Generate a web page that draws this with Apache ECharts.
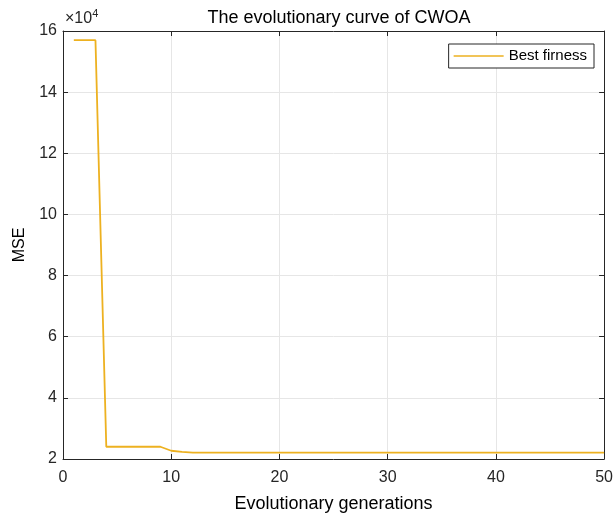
<!DOCTYPE html>
<html>
<head>
<meta charset="utf-8">
<script src="https://cdn.jsdelivr.net/npm/echarts@6/dist/echarts.min.js"></script>
<style>
  html, body { margin: 0; padding: 0; background: #fff; }
  #chart { width: 616px; height: 518px; }
</style>
</head>
<body>
<div id="chart"></div>
<script>
// generations 1..50, best fitness (MSE)
const generations = [];
for (let i = 1; i <= 50; i++) generations.push(i);
const bestFitness = [
  157000, 157000, 157000, 24000, 24000, 24000, 24000, 24000, 24000, 22700,
  22300, 22100, 22100, 22100, 22100, 22100, 22100, 22100, 22100, 22100,
  22100, 22100, 22100, 22100, 22100, 22100, 22100, 22100, 22100, 22100,
  22100, 22100, 22100, 22100, 22100, 22100, 22100, 22100, 22100, 22100,
  22100, 22100, 22100, 22100, 22100, 22100, 22100, 22100, 22100, 22100
];
const yTicks = [2, 4, 6, 8, 10, 12, 14, 16];

let myChart = echarts.init(document.getElementById('chart'));
const font = 'Arial, "Liberation Sans", sans-serif';
const axisColor = '#262626';

let option = {
  animation: false,
  textStyle: { fontFamily: font },
  title: {
    text: 'The evolutionary curve of CWOA',
    left: 334,
    textAlign: 'center',
    top: 4,
    textStyle: { fontSize: 18, fontWeight: 'normal', color: '#000', fontFamily: font }
  },
  grid: { left: 63, right: 9, top: 31, bottom: 59 },
  legend: {
    right: 22,
    top: 44,
    data: ['Best firness'],
    icon: 'rect',
    itemWidth: 50,
    itemHeight: 1.6,
    padding: [4, 7, 4, 5],
    borderColor: '#262626',
    borderWidth: 1,
    borderRadius: 0,
    backgroundColor: '#fff',
    textStyle: { fontSize: 15, color: '#000', fontFamily: font, lineHeight: 16 },
    itemStyle: { color: '#EDB120' }
  },
  graphic: [{
    type: 'text',
    left: 65,
    top: 8,
    style: {
      text: '{a|×10}{b|4}',
      rich: {
        a: { fontSize: 16, fill: '#262626', fontFamily: font, verticalAlign: 'bottom' },
        b: { fontSize: 11, fill: '#262626', fontFamily: font, verticalAlign: 'top', padding: [0, 0, 8, 0] }
      }
    }
  }],
  xAxis: [
    {
      type: 'value',
      min: 0, max: 50, interval: 10,
      name: 'Evolutionary generations',
      nameLocation: 'middle',
      nameGap: 36,
      nameTextStyle: { fontSize: 18, color: '#000', fontFamily: font },
      axisLine: { onZero: false, lineStyle: { color: axisColor } },
      axisTick: { inside: true, length: 5, lineStyle: { color: axisColor } },
      axisLabel: { fontSize: 16, color: '#262626', margin: 11, fontFamily: font },
      splitLine: { show: true, lineStyle: { color: '#e6e6e6' } }
    },
    {
      type: 'value',
      position: 'top',
      min: 0, max: 50, interval: 10,
      axisLine: { onZero: false, lineStyle: { color: axisColor } },
      axisTick: { inside: true, length: 5, lineStyle: { color: axisColor } },
      axisLabel: { show: false },
      splitLine: { show: false }
    }
  ],
  yAxis: [
    {
      type: 'value',
      min: 20000, max: 160000, interval: 20000,
      name: 'MSE',
      nameLocation: 'middle',
      nameGap: 35,
      nameRotate: 90,
      nameTextStyle: { fontSize: 16, color: '#000', fontFamily: font },
      axisLine: { show: true, onZero: false, lineStyle: { color: axisColor } },
      axisTick: { show: true, inside: true, length: 5, lineStyle: { color: axisColor } },
      axisLabel: {
        fontSize: 16, color: '#262626', margin: 6, fontFamily: font,
        formatter: function (v) { return String(yTicks[Math.round(v / 20000) - 1]); }
      },
      splitLine: { show: true, lineStyle: { color: '#e6e6e6' } }
    },
    {
      type: 'value',
      position: 'right',
      min: 20000, max: 160000, interval: 20000,
      axisLine: { show: true, onZero: false, lineStyle: { color: axisColor } },
      axisTick: { show: true, inside: true, length: 5, lineStyle: { color: axisColor } },
      axisLabel: { show: false },
      splitLine: { show: false }
    }
  ],
  series: [
    {
      name: 'Best firness',
      type: 'line',
      data: generations.map((g, i) => [g, bestFitness[i]]),
      showSymbol: false,
      symbol: 'none',
      lineStyle: { color: '#EDB120', width: 1.8 },
      itemStyle: { color: '#EDB120' }
    }
  ]
};
myChart.setOption(option);
</script>
</body>
</html>
